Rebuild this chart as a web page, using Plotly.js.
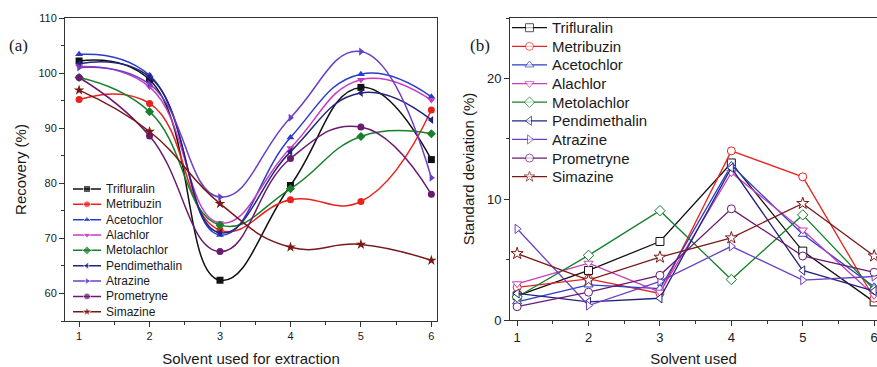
<!DOCTYPE html>
<html><head><meta charset="utf-8">
<script src="https://cdn.plot.ly/plotly-3.0.1.min.js"></script>
<style>html,body{margin:0;padding:0;background:#fff}#chart{width:877px;height:367px}</style>
</head><body><div id="chart"></div>
<script>
// ---- data ----
const solvents = [1, 2, 3, 4, 5, 6];
const names = ['Trifluralin','Metribuzin','Acetochlor','Alachlor','Metolachlor','Pendimethalin','Atrazine','Prometryne','Simazine'];

// (a) Recovery (%)
const recTrifluralin   = [102.2, 98.8, 62.4, 79.6, 97.4, 84.3];
const recMetribuzin    = [95.2, 94.5, 71.5, 77.0, 76.7, 93.3];
const recAcetochlor    = [103.4, 99.6, 70.6, 88.3, 99.8, 95.7];
const recAlachlor      = [101.2, 97.5, 72.8, 86.4, 98.8, 95.1];
const recMetolachlor   = [99.2, 93.0, 72.4, 79.0, 88.5, 89.0];
const recPendimethalin = [101.7, 99.3, 71.0, 85.7, 96.4, 91.5];
const recAtrazine      = [101.0, 98.0, 77.5, 91.9, 103.9, 81.0];
const recPrometryne    = [99.2, 88.6, 67.6, 84.5, 90.2, 78.0];
const recSimazine      = [96.9, 89.4, 76.3, 68.4, 68.9, 66.0];

// (b) Standard deviation (%)
const sdTrifluralin   = [2.0, 4.1, 6.5, 13.0, 5.7, 1.5];
const sdMetribuzin    = [2.7, 3.4, 2.2, 14.0, 11.85, 1.8];
const sdAcetochlor    = [1.5, 2.9, 2.6, 12.8, 7.1, 2.75];
const sdAlachlor      = [3.0, 4.7, 2.3, 12.2, 7.45, 2.05];
const sdMetolachlor   = [1.9, 5.35, 9.05, 3.35, 8.7, 2.5];
const sdPendimethalin = [2.2, 1.5, 1.8, 12.6, 4.1, 2.4];
const sdAtrazine      = [7.55, 1.2, 3.2, 6.1, 3.3, 3.6];
const sdPrometryne    = [1.1, 2.3, 3.7, 9.2, 5.3, 3.95];
const sdSimazine      = [5.5, 3.3, 5.2, 6.8, 9.65, 5.3];

const recovery = [recTrifluralin, recMetribuzin, recAcetochlor, recAlachlor, recMetolachlor, recPendimethalin, recAtrazine, recPrometryne, recSimazine];
const stdev = [sdTrifluralin, sdMetribuzin, sdAcetochlor, sdAlachlor, sdMetolachlor, sdPendimethalin, sdAtrazine, sdPrometryne, sdSimazine];

// ---- styles ----
const colors = ['#111111','#e8231f','#2b3ccc','#c63cbf','#17802c','#23237e','#6a3fc6','#6a1a6f','#7a1818'];
const symbols = ['square','circle','triangle-up','triangle-down','diamond','triangle-left','triangle-right','circle','star'];
const FONT = 'Liberation Sans, Arial, sans-serif';
const TXT = '#1a1a1a';

const traces = [];
names.forEach((n, i) => {
  traces.push({
    x: solvents, y: recovery[i], xaxis: 'x', yaxis: 'y', name: n, type: 'scatter',
    mode: 'lines+markers', line: {color: colors[i], width: 1.5, shape: 'spline', smoothing: 1.3},
    marker: {symbol: symbols[i], color: colors[i], size: symbols[i] === 'star' ? 8 : 7},
    cliponaxis: false, showlegend: false
  });
});
names.forEach((n, i) => {
  traces.push({
    x: solvents, y: stdev[i], xaxis: 'x2', yaxis: 'y2', name: n, type: 'scatter',
    mode: 'lines+markers', line: {color: colors[i], width: 1.3},
    marker: {symbol: symbols[i], color: '#ffffff', size: symbols[i] === 'star' ? 9 : 8,
             line: {color: colors[i], width: 1}},
    cliponaxis: false, showlegend: false
  });
});
// custom legend samples (built from series names / index)
names.forEach((n, i) => {
  traces.push({
    x: [0, 0.5, 1], y: [i, i, i], xaxis: 'x3', yaxis: 'y3', type: 'scatter', mode: 'lines+markers',
    line: {color: colors[i], width: 1.5},
    marker: {symbol: symbols[i], color: colors[i], size: [0, symbols[i] === 'star' ? 8 : 7, 0]},
    cliponaxis: false, showlegend: false, hoverinfo: 'skip'
  });
  traces.push({
    x: [0, 0.5, 1], y: [i, i, i], xaxis: 'x4', yaxis: 'y4', type: 'scatter', mode: 'lines+markers',
    line: {color: colors[i], width: 1.3},
    marker: {symbol: symbols[i], color: '#ffffff', size: [0, 8, 0], line: {color: colors[i], width: 1}},
    cliponaxis: false, showlegend: false, hoverinfo: 'skip'
  });
});

const annotations = [];
names.forEach((n, i) => {
  annotations.push({text: n, xref: 'paper', yref: 'y3', x: 104/877, y: i, xanchor: 'left', yanchor: 'middle',
    showarrow: false, font: {family: FONT, size: 12, color: TXT}});
  annotations.push({text: n, xref: 'paper', yref: 'y4', x: 550/877, y: i, xanchor: 'left', yanchor: 'middle',
    showarrow: false, font: {family: FONT, size: 15, color: TXT}});
});
annotations.push({text: '(a)', xref: 'paper', yref: 'paper', x: 18/877, y: 1 - 45/367, xanchor: 'center', yanchor: 'middle',
  showarrow: false, font: {family: 'Liberation Serif, Times New Roman, serif', size: 17, color: TXT}});
annotations.push({text: '(b)', xref: 'paper', yref: 'paper', x: 480/877, y: 1 - 45/367, xanchor: 'center', yanchor: 'middle',
  showarrow: false, font: {family: 'Liberation Serif, Times New Roman, serif', size: 17, color: TXT}});

function ax(extra) {
  return Object.assign({
    showline: true, linecolor: '#333', linewidth: 1, mirror: true, showgrid: false, zeroline: false,
    ticks: 'outside', ticklen: 5, tickwidth: 1, tickcolor: '#333', tickmode: 'linear', tick0: 0,
    ticklabeloverflow: 'allow', fixedrange: true
  }, extra);
}
const hidden = {visible: false, fixedrange: true, showgrid: false, zeroline: false};

const layout = {
  width: 877, height: 367, margin: {l: 0, r: 0, t: 0, b: 0},
  paper_bgcolor: '#ffffff', plot_bgcolor: 'rgba(0,0,0,0)', showlegend: false,
  font: {family: FONT, color: TXT},
  xaxis: ax({domain: [65/877, 437/877], range: [0.8, 6.08], dtick: 1, anchor: 'y',
    tickfont: {size: 11, color: TXT},
    minor: {dtick: 0.5, tick0: 0, ticks: 'outside', ticklen: 3, tickcolor: '#333', showgrid: false},
    title: {text: 'Solvent used for extraction', font: {size: 15, color: TXT}, standoff: 12}}),
  yaxis: ax({domain: [1 - 321/367, 1 - 18/367], range: [55, 110], dtick: 10, anchor: 'x',
    tickfont: {size: 11, color: TXT},
    minor: {dtick: 5, tick0: 0, ticks: 'outside', ticklen: 3, tickcolor: '#333', showgrid: false},
    title: {text: 'Recovery (%)', font: {size: 15, color: TXT}, standoff: 8}}),
  xaxis2: ax({domain: [510/877, 1], range: [0.9, 6.04], dtick: 1, anchor: 'y2',
    tickfont: {size: 13, color: TXT},
    minor: {dtick: 0.5, tick0: 0, ticks: 'outside', ticklen: 3, tickcolor: '#333', showgrid: false},
    title: {text: 'Solvent used', font: {size: 15, color: TXT}, standoff: 10}}),
  yaxis2: ax({domain: [1 - 320/367, 1 - 18/367], range: [0, 25], dtick: 10, anchor: 'x2',
    tickfont: {size: 13, color: TXT},
    minor: {dtick: 5, tick0: 0, ticks: 'outside', ticklen: 3, tickcolor: '#333', showgrid: false},
    title: {text: 'Standard deviation (%)', font: {size: 15, color: TXT}, standoff: 8}}),
  xaxis3: Object.assign({domain: [73/877, 101/877], range: [0, 1], anchor: 'y3'}, hidden),
  yaxis3: Object.assign({domain: [1 - 319.4/367, 1 - 181.3/367], range: [8.5, -0.5], anchor: 'x3'}, hidden),
  xaxis4: Object.assign({domain: [512/877, 547/877], range: [0, 1], anchor: 'y4'}, hidden),
  yaxis4: Object.assign({domain: [1 - 186/367, 1 - 18.4/367], range: [8.5, -0.5], anchor: 'x4'}, hidden),
  annotations: annotations
};

Plotly.newPlot('chart', traces, layout, {staticPlot: true, displayModeBar: false});
</script>
</body></html>
